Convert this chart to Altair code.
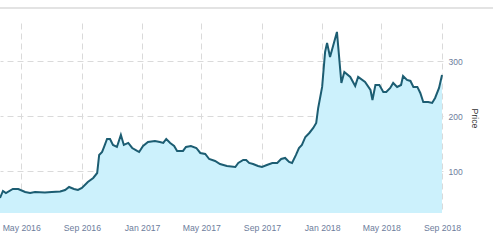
import altair as alt
import pandas as pd

dates = [
    "2016-03-19", "2016-03-25", "2016-03-31", "2016-04-14", "2016-04-25", "2016-05-09",
    "2016-05-19", "2016-05-29", "2016-06-18", "2016-07-02", "2016-07-19", "2016-07-29",
    "2016-08-06", "2016-08-16", "2016-08-24", "2016-09-01", "2016-09-13", "2016-09-24",
    "2016-10-02", "2016-10-06", "2016-10-12", "2016-10-16", "2016-10-22", "2016-10-28",
    "2016-11-03", "2016-11-11", "2016-11-19", "2016-11-25", "2016-12-04", "2016-12-12",
    "2016-12-22", "2016-12-26", "2017-01-03", "2017-01-13", "2017-01-27", "2017-02-06",
    "2017-02-13", "2017-02-19", "2017-02-27", "2017-03-07", "2017-03-13", "2017-03-25",
    "2017-03-31", "2017-04-10", "2017-04-21", "2017-04-29", "2017-05-09", "2017-05-17",
    "2017-05-29", "2017-06-08", "2017-06-22", "2017-07-09", "2017-07-15", "2017-07-25",
    "2017-07-31", "2017-08-06", "2017-08-14", "2017-08-24", "2017-09-01", "2017-09-11",
    "2017-09-22", "2017-10-02", "2017-10-10", "2017-10-18", "2017-10-26", "2017-11-01",
    "2017-11-09", "2017-11-15", "2017-11-21", "2017-11-28", "2017-12-06", "2017-12-14",
    "2017-12-20", "2017-12-24", "2018-01-01", "2018-01-07", "2018-01-11", "2018-01-17",
    "2018-01-31", "2018-02-09", "2018-02-15", "2018-02-27", "2018-03-09", "2018-03-15",
    "2018-03-29", "2018-04-09", "2018-04-13", "2018-04-19", "2018-04-27", "2018-05-05",
    "2018-05-11", "2018-05-19", "2018-05-25", "2018-06-02", "2018-06-10", "2018-06-14",
    "2018-06-22", "2018-06-29", "2018-07-05", "2018-07-13", "2018-07-19", "2018-07-25",
    "2018-08-04", "2018-08-12", "2018-08-18", "2018-08-26", "2018-09-01",
]
prices = [
    50.8, 63.6, 59.9, 67.2, 67.2, 61.7,
    59.9, 61.7, 60.8, 61.7, 62.6, 65.4,
    70.9, 67.2, 65.4, 69.0, 80.0, 87.3,
    96.4, 129.3, 134.7, 143.9, 158.5, 158.5,
    147.5, 143.9, 165.8, 147.5, 151.2, 142.0,
    136.6, 134.7, 145.7, 153.0, 154.8, 153.0,
    151.2, 158.5, 151.2, 145.7, 136.6, 136.6,
    143.9, 145.7, 142.0, 132.9, 131.1, 121.9,
    118.3, 112.8, 109.2, 107.3, 114.7, 120.1,
    120.1, 114.7, 112.8, 109.2, 107.3, 111.0,
    114.7, 114.7, 121.9, 123.8, 116.5, 114.7,
    129.3, 142.0, 147.5, 162.1, 169.4, 178.5,
    187.7, 215.0, 253.4, 317.2, 333.7, 308.1,
    353.7, 260.6, 280.7, 271.6, 255.2, 271.6,
    262.5, 247.9, 229.6, 257.0, 257.0, 244.2,
    244.2, 251.5, 260.6, 253.4, 257.0, 273.4,
    266.1, 264.3, 253.4, 253.4, 242.4, 226.0,
    226.0, 224.2, 233.3, 251.5, 275.2,
]
y_ticks = [100, 200, 300]
x_ticks = [(2016, 5), (2016, 9), (2017, 1), (2017, 5), (2017, 9), (2018, 1), (2018, 5), (2018, 9)]

df = pd.DataFrame({"date": dates, "price": prices})

FONT = "Liberation Sans"
LABEL_COLOR = "#6d7d9c"
GRID_COLOR = "#dadada"

x_scale = alt.Scale(
    type="utc",
    domain=[alt.DateTime(year=2016, month=3, date=19, utc=True),
            alt.DateTime(year=2018, month=9, date=3, utc=True)],
    nice=False,
)
y_scale = alt.Scale(domain=[23.4, 370], nice=False, zero=False)

x_axis = alt.Axis(
    values=[alt.DateTime(year=y, month=m, date=1, utc=True) for y, m in x_ticks],
    format="%b %Y",
    title=None,
    domain=False,
    ticks=False,
    grid=True,
    gridColor=GRID_COLOR,
    gridDash=[6, 4],
    gridWidth=1,
    labelFont=FONT,
    labelFontSize=8.7,
    labelColor=LABEL_COLOR,
    labelPadding=10,
    labelBaseline="top",
    labelFlush=False,
    labelOverlap=False,
    labelBound=False,
)
y_axis = alt.Axis(
    orient="right",
    values=y_ticks,
    title="Price",
    titleAngle=90,
    titleX=31,
    titleY=95,
    titleAlign="center",
    titleBaseline="middle",
    titleFont=FONT,
    titleFontSize=8.7,
    titleFontWeight="normal",
    titleColor="#333333",
    domain=False,
    ticks=False,
    grid=True,
    gridColor=GRID_COLOR,
    gridDash=[6, 4],
    gridWidth=1,
    labelFont=FONT,
    labelFontSize=8.5,
    labelColor=LABEL_COLOR,
    labelPadding=5,
    labelAlign="left",
)

base = alt.Chart(df).encode(
    x=alt.X("date:T", scale=x_scale, axis=x_axis),
    y=alt.Y("price:Q", scale=y_scale, axis=y_axis),
)

area = base.mark_area(color="#ccf1fc", opacity=1, clip=True, interpolate="linear")
line = base.mark_line(color="#1c5d72", strokeWidth=2, clip=True, interpolate="linear")

frame_top = alt.Chart(df).mark_rule(color="#e3e3e3", strokeWidth=2).encode(
    x=alt.value(0), x2=alt.value(493), y=alt.value(-15)
)
frame_bottom = alt.Chart(df).mark_rule(color="#e3e3e3", strokeWidth=2).encode(
    x=alt.value(0), x2=alt.value(493), y=alt.value(229)
)

chart = (
    alt.layer(area, line, frame_top, frame_bottom)
    .properties(
        width=443,
        height=190,
        autosize=alt.AutoSizeParams(type="none"),
        padding={"left": 0, "top": 23, "right": 50, "bottom": 31},
        background="white",
    )
    .configure_view(stroke=None)
)

chart.save("out.html", embed_options={"renderer": "svg", "actions": False})
